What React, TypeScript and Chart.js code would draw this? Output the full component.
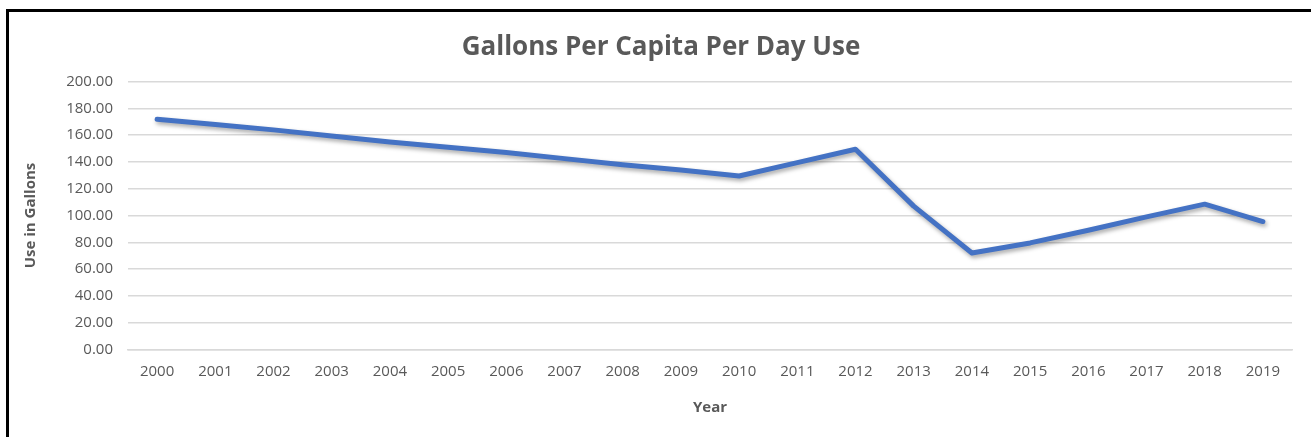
import React, { useEffect, useRef } from "react";
import { Chart, registerables } from "chart.js";

Chart.register(...registerables);

const years = [
  "2000", "2001", "2002", "2003", "2004", "2005", "2006", "2007", "2008", "2009",
  "2010", "2011", "2012", "2013", "2014", "2015", "2016", "2017", "2018", "2019",
];
const gallonsPerCapita = [
  172, 168, 164, 159.5, 155, 151, 147, 142.5, 138, 134,
  129.5, 139.5, 149.5, 107, 72, 79.5, 89, 99, 108.5, 95.5,
];
const chartTitle = "Gallons Per Capita Per Day Use";
const xTitle = "Year";
const yTitle = "Use in Gallons";

const FONT = "'Open Sans', 'DejaVu Sans', sans-serif";
const TEXT = "#595959";
const GRID = "#d9d9d9";
const LINE = "#4472C4";

const shadowPlugin = {
  id: "lineShadow",
  beforeDatasetDraw(chart: any) {
    const ctx = chart.ctx;
    ctx.save();
    ctx.shadowColor = "rgba(0,0,0,0.35)";
    ctx.shadowBlur = 4;
    ctx.shadowOffsetX = 1.5;
    ctx.shadowOffsetY = 2.5;
  },
  afterDatasetDraw(chart: any) {
    chart.ctx.restore();
  },
};

export default function App() {
  const canvasRef = useRef<HTMLCanvasElement | null>(null);

  useEffect(() => {
    document.body.style.margin = "0";
    const canvas = canvasRef.current;
    if (!canvas) return;
    const chart = new Chart(canvas, {
      type: "line",
      data: {
        labels: years,
        datasets: [
          {
            label: "Gallons",
            data: gallonsPerCapita,
            borderColor: LINE,
            backgroundColor: LINE,
            borderWidth: 5,
            pointRadius: 0,
            tension: 0,
            borderCapStyle: "round",
            borderJoinStyle: "round",
            fill: false,
          },
        ],
      },
      options: {
        animation: false,
        responsive: true,
        maintainAspectRatio: false,
        layout: { padding: { left: 30, right: 19, top: 0, bottom: 0 } },
        plugins: {
          legend: { display: false },
          tooltip: { enabled: false },
          title: {
            display: true,
            text: chartTitle,
            color: TEXT,
            font: { family: FONT, size: 26, weight: "bold" },
            padding: { top: 32, bottom: 18.5 },
          },
        },
        scales: {
          x: {
            offset: true,
            grid: { display: false, drawTicks: false },
            border: { display: true, color: GRID, width: 1.5 },
            ticks: {
              color: TEXT,
              font: { family: FONT, size: 15 },
              padding: 13,
              maxRotation: 0,
              autoSkip: false,
            },
            title: {
              display: true,
              text: xTitle,
              color: TEXT,
              font: { family: FONT, size: 15, weight: "bold" },
              padding: { top: 0, bottom: 20 },
            },
            afterFit(scale: any) {
              scale.height = 87.7;
            },
          },
          y: {
            min: 0,
            max: 200,
            grid: { color: GRID, lineWidth: 1.5, drawTicks: false },
            border: { display: false },
            ticks: {
              stepSize: 20,
              color: TEXT,
              font: { family: FONT, size: 15 },
              padding: 15,
              callback: (v: any) => Number(v).toFixed(2),
            },
            title: {
              display: true,
              text: yTitle,
              color: TEXT,
              font: { family: FONT, size: 15, weight: "bold" },
              padding: { top: -8, bottom: 0 },
            },
            afterFit(scale: any) {
              scale.width = 98;
            },
          },
        },
      },
      plugins: [shadowPlugin],
    });
    return () => chart.destroy();
  }, []);

  return (
    <div style={{ position: "fixed", left: 0, top: 0, width: 1311, height: 437, background: "#fff" }}>
      <canvas ref={canvasRef} />
      <div
        style={{
          position: "absolute",
          left: 6,
          top: 9,
          right: 0,
          bottom: 0,
          borderTop: "3px solid #000",
          borderLeft: "3px solid #000",
          pointerEvents: "none",
        }}
      />
    </div>
  );
}
